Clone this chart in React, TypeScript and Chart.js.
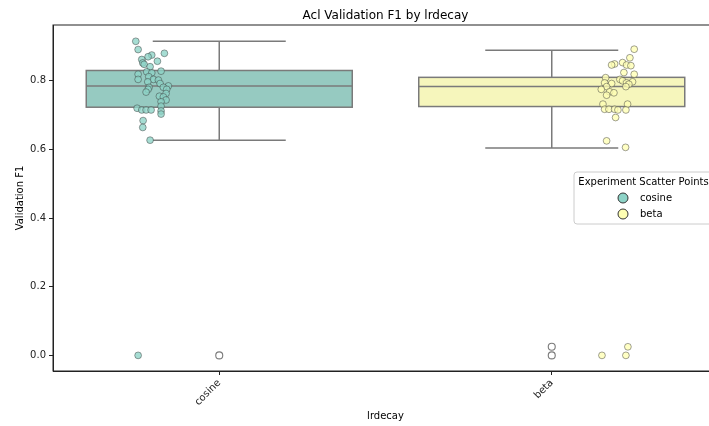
import React, { useEffect, useRef } from 'react';
import { Chart, registerables } from 'chart.js';

Chart.register(...registerables);

// ---- data ----
const categories = ['cosine', 'beta'];
const boxQ1 = [0.723, 0.725];
const boxMedian = [0.785, 0.783];
const boxQ3 = [0.830, 0.810];
const whiskerLow = [0.627, 0.604];
const whiskerHigh = [0.915, 0.889];
const cosineOutliers = [0.0];
const betaOutliers = [0.0, 0.025];

const cosineJitter = [-0.251, -0.244, -0.203, -0.214, -0.165, -0.233, -0.230, -0.186, -0.226, -0.208, -0.218, -0.175, -0.244, -0.203, -0.212, -0.244, -0.198, -0.215, -0.183, -0.178, -0.153, -0.168, -0.211, -0.158, -0.214, -0.220, -0.160, -0.180, -0.168, -0.160, -0.175, -0.247, -0.233, -0.220, -0.205, -0.175, -0.175, -0.175, -0.229, -0.230, -0.208, -0.244];
const cosineValues = [0.915, 0.891, 0.875, 0.870, 0.880, 0.862, 0.852, 0.857, 0.848, 0.841, 0.826, 0.828, 0.819, 0.823, 0.812, 0.804, 0.804, 0.797, 0.802, 0.792, 0.785, 0.781, 0.781, 0.775, 0.775, 0.767, 0.763, 0.755, 0.753, 0.744, 0.739, 0.720, 0.715, 0.715, 0.715, 0.726, 0.712, 0.703, 0.684, 0.664, 0.627, 0.0];
const betaJitter = [0.248, 0.235, 0.189, 0.180, 0.213, 0.225, 0.238, 0.217, 0.248, 0.162, 0.205, 0.213, 0.243, 0.180, 0.159, 0.225, 0.232, 0.223, 0.165, 0.149, 0.174, 0.187, 0.165, 0.154, 0.228, 0.159, 0.172, 0.189, 0.199, 0.223, 0.192, 0.165, 0.222, 0.151, 0.223, 0.229];
const betaValues = [0.892, 0.867, 0.849, 0.846, 0.853, 0.846, 0.844, 0.824, 0.819, 0.809, 0.804, 0.800, 0.797, 0.792, 0.794, 0.794, 0.790, 0.783, 0.783, 0.775, 0.768, 0.765, 0.758, 0.732, 0.732, 0.717, 0.717, 0.717, 0.715, 0.715, 0.693, 0.625, 0.606, 0.0, 0.0, 0.025];

const yTicks = [0, 0.2, 0.4, 0.6, 0.8];
const yMin = -0.0455;
const yMax = 0.9625;

const chartTitle = 'Acl Validation F1 by lrdecay';
const xTitle = 'lrdecay';
const yTitle = 'Validation F1';
const legendTitle = 'Experiment Scatter Points';

// ---- styles ----
const FONT = '"DejaVu Sans", sans-serif';
const boxFill = ['rgb(150,202,193)', 'rgb(246,246,188)'];
const pointFill = ['rgba(141,211,199,0.78)', 'rgba(255,255,179,0.78)'];
const legendFill = ['rgb(141,211,199)', 'rgb(255,255,179)'];
const pointBorder = 'rgba(60,60,60,0.6)';
const lineGray = 'rgb(122,122,122)';
const axisColor = '#222';

const boxPlugin = {
  id: 'boxPlugin',
  beforeDatasetsDraw(chart: any) {
    const { ctx, scales } = chart;
    const x = scales.x;
    const y = scales.y;
    ctx.save();
    ctx.lineWidth = 1.5;
    ctx.strokeStyle = lineGray;
    const seg = (x1: number, y1: number, x2: number, y2: number) => {
      ctx.beginPath();
      ctx.moveTo(x1, y1);
      ctx.lineTo(x2, y2);
      ctx.stroke();
    };
    categories.forEach((_, i) => {
      const xl = x.getPixelForValue(i - 0.4);
      const xr = x.getPixelForValue(i + 0.4);
      const xc = x.getPixelForValue(i);
      const cl = x.getPixelForValue(i - 0.2);
      const cr = x.getPixelForValue(i + 0.2);
      const yq1 = y.getPixelForValue(boxQ1[i]);
      const yq3 = y.getPixelForValue(boxQ3[i]);
      const ym = y.getPixelForValue(boxMedian[i]);
      const ylo = y.getPixelForValue(whiskerLow[i]);
      const yhi = y.getPixelForValue(whiskerHigh[i]);
      seg(xc, yq3, xc, yhi);
      seg(xc, yq1, xc, ylo);
      seg(cl, yhi, cr, yhi);
      seg(cl, ylo, cr, ylo);
      ctx.fillStyle = boxFill[i];
      ctx.fillRect(xl, yq3, xr - xl, yq1 - yq3);
      ctx.strokeRect(xl, yq3, xr - xl, yq1 - yq3);
      seg(xl, ym, xr, ym);
    });
    ctx.restore();
  },
  afterDraw(chart: any) {
    const { ctx, chartArea } = chart;
    ctx.save();
    // frame (top + right spines)
    ctx.strokeStyle = axisColor;
    ctx.lineWidth = 1;
    ctx.strokeRect(chartArea.left, chartArea.top, chartArea.right - chartArea.left, chartArea.bottom - chartArea.top);
    // title
    ctx.fillStyle = '#000';
    ctx.font = '12px ' + FONT;
    ctx.textAlign = 'center';
    ctx.textBaseline = 'alphabetic';
    ctx.fillText(chartTitle, (chartArea.left + chartArea.right) / 2, chartArea.top - 6);
    // legend
    const right = chartArea.right - 5;
    const w = 139;
    const left = right - w;
    const top = 172;
    const h = 52;
    const r = 3;
    ctx.beginPath();
    ctx.moveTo(left + r, top);
    ctx.lineTo(right - r, top);
    ctx.arcTo(right, top, right, top + r, r);
    ctx.lineTo(right, top + h - r);
    ctx.arcTo(right, top + h, right - r, top + h, r);
    ctx.lineTo(left + r, top + h);
    ctx.arcTo(left, top + h, left, top + h - r, r);
    ctx.lineTo(left, top + r);
    ctx.arcTo(left, top, left + r, top, r);
    ctx.closePath();
    ctx.fillStyle = 'rgba(255,255,255,0.8)';
    ctx.fill();
    ctx.strokeStyle = '#cccccc';
    ctx.stroke();
    ctx.fillStyle = '#000';
    ctx.font = '10px ' + FONT;
    ctx.textAlign = 'center';
    ctx.textBaseline = 'middle';
    ctx.fillText(legendTitle, left + w / 2, top + 10);
    const markerX = left + 49;
    const textX = left + 66;
    categories.forEach((c, i) => {
      const yy = top + 26 + i * 16;
      ctx.beginPath();
      ctx.arc(markerX, yy, 5, 0, Math.PI * 2);
      ctx.fillStyle = legendFill[i];
      ctx.fill();
      ctx.strokeStyle = '#333';
      ctx.lineWidth = 1;
      ctx.stroke();
      ctx.fillStyle = '#000';
      ctx.textAlign = 'left';
      ctx.fillText(c, textX, yy);
    });
    ctx.restore();
  },
};

export default function App() {
  const ref = useRef<HTMLCanvasElement>(null);
  useEffect(() => {
    if (!ref.current) return;
    Chart.defaults.font.family = FONT;
    const chart = new Chart(ref.current, {
      type: 'scatter',
      data: {
        datasets: [
          {
            label: categories[0],
            data: cosineValues.map((v, i) => ({ x: 0 + cosineJitter[i], y: v })),
            backgroundColor: pointFill[0],
            borderColor: pointBorder,
            borderWidth: 0.8,
            pointRadius: 3.4,
          },
          {
            label: categories[1],
            data: betaValues.map((v, i) => ({ x: 1 + betaJitter[i], y: v })),
            backgroundColor: pointFill[1],
            borderColor: pointBorder,
            borderWidth: 0.8,
            pointRadius: 3.4,
          },
          {
            label: 'outliers',
            data: [
              ...cosineOutliers.map((v) => ({ x: 0, y: v })),
              ...betaOutliers.map((v) => ({ x: 1, y: v })),
            ],
            backgroundColor: 'rgba(0,0,0,0)',
            borderColor: lineGray,
            borderWidth: 1.1,
            pointRadius: 3.5,
          },
        ],
      },
      options: {
        responsive: false,
        animation: false,
        layout: { padding: { top: 25, right: 12, left: 0, bottom: 0 } },
        plugins: {
          legend: { display: false },
          tooltip: { enabled: false },
          title: { display: false },
        },
        scales: {
          x: {
            type: 'linear',
            min: -0.5,
            max: 1.5,
            afterBuildTicks: (s: any) => {
              s.ticks = categories.map((_, i) => ({ value: i }));
            },
            afterFit: (s: any) => {
              s.height = 55;
            },
            ticks: {
              callback: (v: any) => categories[v] ?? '',
              minRotation: 45,
              maxRotation: 45,
              autoSkip: false,
              color: axisColor,
              font: { size: 10, family: FONT },
              padding: 2,
            },
            grid: { display: true, drawOnChartArea: false, drawTicks: true, tickLength: 4, color: axisColor },
            border: { display: true, color: axisColor, width: 1 },
            title: { display: true, text: xTitle, color: '#000', font: { size: 10, family: FONT }, padding: { top: 4, bottom: 4 } },
          },
          y: {
            type: 'linear',
            min: yMin,
            max: yMax,
            afterBuildTicks: (s: any) => {
              s.ticks = yTicks.map((v) => ({ value: v }));
            },
            afterFit: (s: any) => {
              s.width = 53;
            },
            ticks: {
              callback: (v: any) => Number(v).toFixed(1),
              color: axisColor,
              font: { size: 10, family: FONT },
              padding: 3,
            },
            grid: { display: true, drawOnChartArea: false, drawTicks: true, tickLength: 4, color: axisColor },
            border: { display: true, color: axisColor, width: 1 },
            title: { display: true, text: yTitle, color: '#000', font: { size: 10, family: FONT }, padding: { top: 14, bottom: 4 } },
          },
        },
      },
      plugins: [boxPlugin],
    });
    return () => chart.destroy();
  }, []);
  return (
    <div style={{ position: 'absolute', left: 0, top: 0, width: 709, height: 426, overflow: 'hidden', background: '#fff' }}>
      <canvas ref={ref} width={730} height={426} style={{ width: 730, height: 426, display: 'block' }} />
    </div>
  );
}
